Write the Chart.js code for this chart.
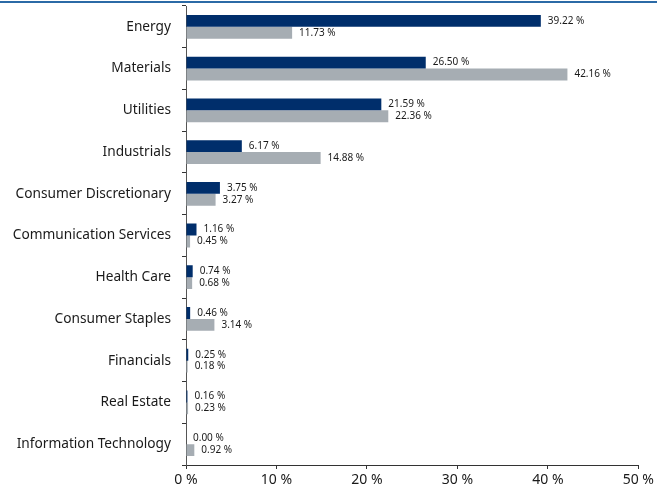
<!DOCTYPE html>
<html>
<head>
<meta charset="utf-8">
<script src="https://cdn.jsdelivr.net/npm/chart.js@4"></script>
<style>
  html, body { margin: 0; padding: 0; background: #ffffff; }
  #wrap { position: relative; width: 657px; height: 495px; }
  #topline { position: absolute; left: 0; top: 1px; width: 657px; height: 2px; background: #2b6aa6; }
  canvas { position: absolute; left: 0; top: 0; }
</style>
</head>
<body>
<div id="wrap">
  <canvas id="c" width="657" height="495"></canvas>
  <div id="topline"></div>
</div>
<script>
const categories = ["Energy", "Materials", "Utilities", "Industrials", "Consumer Discretionary",
  "Communication Services", "Health Care", "Consumer Staples", "Financials", "Real Estate",
  "Information Technology"];
const seriesA = [39.22, 26.50, 21.59, 6.17, 3.75, 1.16, 0.74, 0.46, 0.25, 0.16, 0.00];
const seriesB = [11.73, 42.16, 22.36, 14.88, 3.27, 0.45, 0.68, 3.14, 0.18, 0.23, 0.92];
const xTicks = [0, 10, 20, 30, 40, 50];

const FONT = "'Noto Sans', sans-serif";

const valueLabels = {
  id: 'valueLabels',
  afterDatasetsDraw(chart) {
    const ctx = chart.ctx;
    ctx.save();
    ctx.font = "10px " + FONT;
    ctx.fillStyle = '#1a1a1a';
    ctx.textBaseline = 'middle';
    ctx.textAlign = 'left';
    chart.data.datasets.forEach((ds, di) => {
      const meta = chart.getDatasetMeta(di);
      meta.data.forEach((bar, i) => {
        const v = ds.data[i];
        ctx.fillText(v.toFixed(2) + ' %', bar.x + 7, bar.y);
      });
    });
    ctx.restore();
  }
};

new Chart(document.getElementById('c'), {
  type: 'bar',
  data: {
    labels: categories,
    datasets: [
      { label: 'A', data: seriesA, backgroundColor: '#002e6b', borderWidth: 0,
        categoryPercentage: 0.57, barPercentage: 1.0 },
      { label: 'B', data: seriesB, backgroundColor: '#a6adb3', borderWidth: 0,
        categoryPercentage: 0.57, barPercentage: 1.0 }
    ]
  },
  options: {
    indexAxis: 'y',
    responsive: false,
    animation: false,
    layout: { padding: { top: 6, right: 18, left: 0, bottom: 0 } },
    plugins: { legend: { display: false }, tooltip: { enabled: false } },
    scales: {
      x: {
        min: 0, max: 50,
        afterBuildTicks(scale) { scale.ticks = xTicks.map(v => ({ value: v })); },
        afterFit(scale) { scale.height = 30; },
        border: { display: true, color: '#333333', width: 1 },
        grid: { drawOnChartArea: false, drawTicks: true, tickLength: 4, color: '#333333' },
        ticks: {
          padding: 3,
          color: '#1a1a1a',
          font: { family: FONT, size: 14 },
          callback: v => v + ' %'
        }
      },
      y: {
        afterFit(scale) { scale.width = 186; scale.paddingTop = 0; scale.paddingBottom = 0; },
        border: { display: true, color: '#555555', width: 1 },
        grid: { offset: true, drawOnChartArea: false, drawTicks: true, tickLength: 4, color: '#333333' },
        ticks: {
          padding: 11,
          color: '#1a1a1a',
          font: { family: FONT, size: 13.7 }
        }
      }
    }
  },
  plugins: [valueLabels]
});
</script>
</body>
</html>
